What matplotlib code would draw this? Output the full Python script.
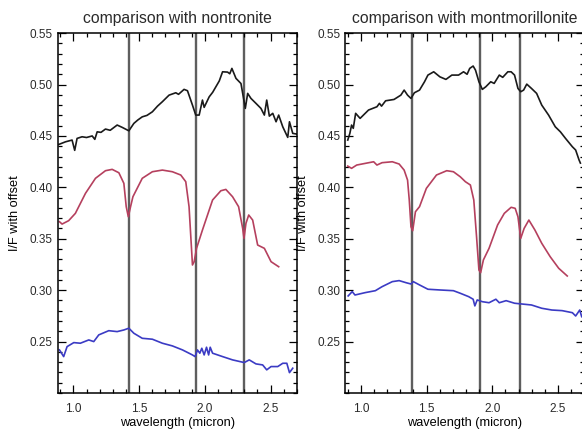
import matplotlib.pyplot as plt
from matplotlib.ticker import MultipleLocator

plt.rcParams['font.family'] = ['Liberation Sans', 'DejaVu Sans']
plt.rcParams['text.color'] = '#2a2a2a'
plt.rcParams['xtick.labelcolor'] = '#2a2a2a'
plt.rcParams['ytick.labelcolor'] = '#2a2a2a'

# ---- left panel: nontronite ----
non_black_x = [0.89, 0.94, 0.99, 1.01, 1.028, 1.066, 1.10, 1.143, 1.163, 1.181, 1.21, 1.244, 1.28,
               1.333, 1.372, 1.422, 1.46, 1.49, 1.524, 1.56, 1.601, 1.64, 1.677, 1.728, 1.779, 1.80,
               1.842, 1.868, 1.906, 1.931, 1.957, 1.982, 1.995, 2.033, 2.06, 2.084, 2.11, 2.135, 2.173,
               2.19, 2.206, 2.237, 2.275, 2.308, 2.326, 2.351, 2.389, 2.427, 2.453, 2.471, 2.491, 2.517,
               2.542, 2.562, 2.593, 2.631, 2.644, 2.669, 2.70]
non_black_y = [0.4418, 0.4443, 0.446, 0.436, 0.4476, 0.4492, 0.4485, 0.450, 0.4467, 0.454, 0.4535, 0.4567,
               0.4555, 0.4606, 0.4583, 0.455, 0.4622, 0.4655, 0.4686, 0.4700, 0.4735, 0.4790, 0.4833, 0.4897,
               0.492, 0.4905, 0.4953, 0.494, 0.480, 0.4703, 0.4703, 0.4849, 0.4778, 0.488, 0.4925, 0.4978,
               0.5035, 0.5124, 0.5121, 0.5105, 0.5157, 0.506, 0.501, 0.4768, 0.4914, 0.4865, 0.4817, 0.4768,
               0.4703, 0.4849, 0.4693, 0.472, 0.4638, 0.4703, 0.4589, 0.4486, 0.4638, 0.4525, 0.4518]

non_red_x = [0.894, 0.914, 0.964, 1.015, 1.092, 1.168, 1.244, 1.295, 1.346, 1.384, 1.402, 1.418,
             1.435, 1.453, 1.524, 1.601, 1.677, 1.753, 1.817, 1.855, 1.88, 1.906, 1.919, 1.937,
             1.982, 2.059, 2.122, 2.16, 2.211, 2.257, 2.288, 2.298, 2.313, 2.334, 2.364, 2.402,
             2.453, 2.504, 2.562]
non_red_y = [0.3666, 0.3643, 0.3676, 0.3747, 0.3942, 0.4088, 0.4162, 0.4175, 0.4142, 0.4039, 0.3812, 0.3714,
             0.3812, 0.3909, 0.4088, 0.4152, 0.4168, 0.4152, 0.412, 0.4055, 0.3812, 0.3245, 0.3277, 0.3407,
             0.3585, 0.3877, 0.3967, 0.398, 0.3909, 0.3812, 0.3601, 0.3504, 0.365, 0.3731, 0.3682, 0.3439,
             0.3407, 0.3277, 0.3228]

non_blue_x = [0.894, 0.926, 0.952, 1.003, 1.053, 1.117, 1.155, 1.193, 1.269, 1.333, 1.384, 1.422,
              1.46, 1.524, 1.601, 1.677, 1.753, 1.83, 1.906, 1.926, 1.944, 1.962, 1.977, 1.995,
              2.013, 2.029, 2.041, 2.059, 2.135, 2.211, 2.30, 2.338, 2.389, 2.44, 2.471, 2.504,
              2.555, 2.593, 2.624, 2.644, 2.669]
non_blue_y = [0.2419, 0.2354, 0.2451, 0.249, 0.2484, 0.2516, 0.250, 0.2565, 0.2606, 0.2597, 0.2613, 0.263,
              0.2581, 0.2532, 0.2523, 0.2484, 0.2458, 0.2419, 0.237, 0.2354, 0.2419, 0.2387, 0.2435, 0.237,
              0.2445, 0.237, 0.2445, 0.2387, 0.2354, 0.2322, 0.2296, 0.2322, 0.2283, 0.2273, 0.2225, 0.2257,
              0.2257, 0.2289, 0.2289, 0.2198, 0.2241]

non_bands = [1.42, 1.93, 2.30]

# ---- right panel: montmorillonite ----
mont_black_x = [0.90, 0.916, 0.929, 0.942, 0.96, 0.994, 1.058, 1.122, 1.141, 1.157, 1.188, 1.252,
                1.304, 1.329, 1.355, 1.381, 1.407, 1.446, 1.484, 1.51, 1.554, 1.601, 1.647, 1.692,
                1.743, 1.781, 1.808, 1.828, 1.854, 1.872, 1.898, 1.924, 1.95, 1.988, 2.014, 2.053,
                2.079, 2.118, 2.143, 2.169, 2.195, 2.216, 2.238, 2.262, 2.298, 2.337, 2.376, 2.428,
                2.479, 2.518, 2.557, 2.609, 2.634, 2.66, 2.67]
mont_black_y = [0.446, 0.4525, 0.4606, 0.4574, 0.472, 0.4671, 0.4752, 0.4784, 0.4817, 0.479, 0.4842, 0.4855,
                0.4897, 0.4946, 0.4897, 0.4865, 0.492, 0.4946, 0.5027, 0.5092, 0.5124, 0.5075, 0.505, 0.5092,
                0.5092, 0.5124, 0.510, 0.5157, 0.518, 0.514, 0.5027, 0.4953, 0.4978, 0.5027, 0.5011, 0.5092,
                0.507, 0.5124, 0.5124, 0.5092, 0.4962, 0.493, 0.4946, 0.5004, 0.4962, 0.4914, 0.480, 0.4703,
                0.4589, 0.454, 0.4476, 0.4395, 0.4363, 0.4266, 0.4236]

mont_red_x = [0.90, 0.929, 0.968, 1.032, 1.097, 1.122, 1.161, 1.239, 1.291, 1.329, 1.355, 1.368,
              1.381, 1.394, 1.415, 1.446, 1.498, 1.575, 1.653, 1.704, 1.756, 1.795, 1.833, 1.859,
              1.88, 1.898, 1.911, 1.932, 1.975, 2.04, 2.091, 2.143, 2.174, 2.195, 2.216, 2.242,
              2.278, 2.324, 2.376, 2.44, 2.505, 2.57]
mont_red_y = [0.4207, 0.4185, 0.4217, 0.4233, 0.4249, 0.4217, 0.424, 0.4249, 0.4227, 0.4168, 0.4071, 0.3877,
              0.3617, 0.3578, 0.3763, 0.3812, 0.399, 0.412, 0.4162, 0.4152, 0.4103, 0.4055, 0.4023, 0.3877,
              0.352, 0.3196, 0.317, 0.3294, 0.3407, 0.3634, 0.3747, 0.3806, 0.3796, 0.3714, 0.3504, 0.3601,
              0.3682, 0.3585, 0.3456, 0.3326, 0.3213, 0.3138]

mont_blue_x = [0.903, 0.934, 0.955, 1.032, 1.11, 1.161, 1.239, 1.291, 1.343, 1.381, 1.399, 1.446,
               1.51, 1.601, 1.704, 1.756, 1.82, 1.854, 1.867, 1.885, 1.924, 1.975, 2.027, 2.053,
               2.105, 2.169, 2.221, 2.298, 2.376, 2.453, 2.531, 2.609, 2.634, 2.665, 2.68]
mont_blue_y = [0.2944, 0.2986, 0.2953, 0.2976, 0.2995, 0.3034, 0.3083, 0.3093, 0.3073, 0.306, 0.3083, 0.3051,
               0.3009, 0.3002, 0.2995, 0.297, 0.2937, 0.2912, 0.2847, 0.2905, 0.2888, 0.2878, 0.2912, 0.2878,
               0.2898, 0.2873, 0.2866, 0.2856, 0.2824, 0.2807, 0.2801, 0.2781, 0.2749, 0.2807, 0.2742]

mont_bands = [1.39, 1.91, 2.21]

black = '#1a1a1a'
red = '#b5405e'
blue = '#3b3bc4'
band_color = '#5e5e5e'

fig = plt.figure(figsize=(5.82, 4.32), dpi=100)
ax1 = fig.add_axes([0.099, 0.0903, 0.411, 0.833])
ax2 = fig.add_axes([0.593, 0.0903, 0.411, 0.833])

panels = [
    (ax1, 'comparison with nontronite', non_black_x, non_black_y, non_red_x, non_red_y,
     non_blue_x, non_blue_y, non_bands),
    (ax2, 'comparison with montmorillonite', mont_black_x, mont_black_y, mont_red_x, mont_red_y,
     mont_blue_x, mont_blue_y, mont_bands),
]

for ax, title, bx, by, rx, ry, ux, uy, bands in panels:
    for b in bands:
        ax.axvline(b, color=band_color, lw=1.7, zorder=1)
    ax.plot(bx, by, color=black, lw=1.2, zorder=2)
    ax.plot(rx, ry, color=red, lw=1.2, zorder=2)
    ax.plot(ux, uy, color=blue, lw=1.2, zorder=2)

    ax.set_xlim(0.88, 2.70)
    ax.set_ylim(0.20, 0.55)
    ax.set_xticks([1.0, 1.5, 2.0, 2.5])
    ax.set_yticks([0.25, 0.30, 0.35, 0.40, 0.45, 0.50, 0.55])
    ax.xaxis.set_minor_locator(MultipleLocator(0.1))
    ax.yaxis.set_minor_locator(MultipleLocator(0.01))
    ax.tick_params(which='both', direction='in', top=True, right=True, width=0.9)
    ax.tick_params(which='major', length=6)
    ax.tick_params(which='minor', length=3)
    ax.tick_params(axis='x', which='major', pad=7, labelsize=8.5)
    ax.tick_params(axis='y', which='major', pad=3.5, labelsize=8.5)
    for s in ax.spines.values():
        s.set_linewidth(1.1)

    ax.set_title(title, fontsize=11.3, pad=7)
    ax.set_xlabel('wavelength (micron)', fontsize=9.2, labelpad=2)
    ax.set_ylabel('I/F with offset', fontsize=9.2)
    ax.yaxis.set_label_coords(-0.152, 0.5)

plt.savefig('out.png', dpi=100)
